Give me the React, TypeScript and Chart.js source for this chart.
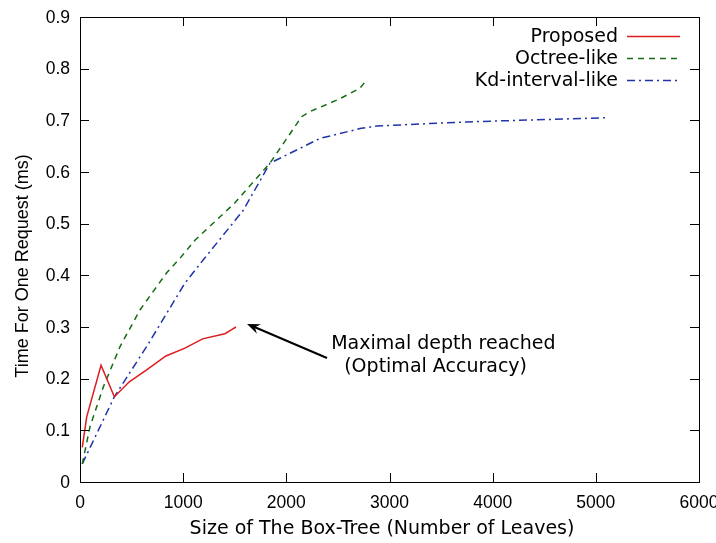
import React, { useEffect, useRef } from "react";
import { Chart, registerables } from "chart.js";

Chart.register(...registerables);

const proposedX = [22, 65, 204, 333, 478, 646, 833, 1017, 1188, 1405, 1470, 1512];
const proposedY = [0.067, 0.126, 0.226, 0.165, 0.194, 0.217, 0.244, 0.259, 0.277, 0.287, 0.295, 0.300];

const octreeX = [22, 97, 226, 388, 581, 840, 969, 1114, 1500, 1841, 2148, 2229, 2500, 2713, 2778];
const octreeY = [0.035, 0.107, 0.184, 0.262, 0.333, 0.405, 0.433, 0.468, 0.54, 0.617, 0.707, 0.717, 0.74, 0.762, 0.778];

const kdX = [22, 333, 655, 1017, 1195, 1583, 1841, 2326, 2713, 2874, 3746, 5103];
const kdY = [0.035, 0.165, 0.265, 0.385, 0.43, 0.526, 0.617, 0.665, 0.684, 0.689, 0.697, 0.705];

const seriesNames = ["Proposed", "Octree-like", "Kd-interval-like"];
const xTicks = [0, 1000, 2000, 3000, 4000, 5000, 6000];
const yTicks = [0, 0.1, 0.2, 0.3, 0.4, 0.5, 0.6, 0.7, 0.8, 0.9];
const xTitle = "Size of The Box-Tree (Number of Leaves)";
const yTitle = "Time For One Request (ms)";
const noteLines = ["Maximal depth reached", "(Optimal Accuracy)"];
const arrowTip = { x: 1619, y: 0.306 };
const arrowTail = { x: 2394, y: 0.24 };
const noteAnchor = { x: 2435, y: 0.267 };

const COLORS = ["#dd1c1c", "#146c14", "#2233aa"];
const DASHES = [[], [6, 5], [8, 4, 2, 4]];
const FONT = "'DejaVu Sans', sans-serif";
const TICK_FONT = "'Liberation Sans', Arial, sans-serif";
const TEXT_SIZE = 19;
const TICK_SIZE = 17.5;

function pts(xs: number[], ys: number[]) {
  return xs.map((x, i) => ({ x, y: ys[i] }));
}

const framePlugin = {
  id: "frame",
  afterDatasetsDraw(chart: any) {
    const { ctx, chartArea: a, scales } = chart;
    const xs = scales.x;
    const ys = scales.y;
    ctx.save();
    ctx.strokeStyle = "#000";
    ctx.lineWidth = 1;
    ctx.setLineDash([]);
    ctx.strokeRect(a.left + 0.5, a.top + 0.5, a.right - a.left, a.bottom - a.top);
    const tl = 9;
    ctx.beginPath();
    for (const v of xTicks) {
      const px = Math.round(xs.getPixelForValue(v)) + 0.5;
      ctx.moveTo(px, a.bottom);
      ctx.lineTo(px, a.bottom - tl);
      ctx.moveTo(px, a.top);
      ctx.lineTo(px, a.top + tl);
    }
    for (const v of yTicks) {
      const py = Math.round(ys.getPixelForValue(v)) + 0.5;
      ctx.moveTo(a.left, py);
      ctx.lineTo(a.left + tl, py);
      ctx.moveTo(a.right, py);
      ctx.lineTo(a.right - tl, py);
    }
    ctx.stroke();

    // tick labels
    ctx.fillStyle = "#000";
    ctx.font = `${TICK_SIZE}px ${TICK_FONT}`;
    ctx.textAlign = "center";
    ctx.textBaseline = "middle";
    for (const v of xTicks) {
      ctx.fillText(String(v), xs.getPixelForValue(v), a.bottom + 21);
    }
    ctx.textAlign = "right";
    for (const v of yTicks) {
      ctx.fillText(v === 0 ? "0" : v.toFixed(1), a.left - 10, ys.getPixelForValue(v) + 1);
    }

    // axis titles
    ctx.font = `${TEXT_SIZE}px ${FONT}`;
    ctx.textAlign = "center";
    ctx.fillText(xTitle, 382, 529);
    ctx.save();
    ctx.font = `18px ${TICK_FONT}`;
    ctx.translate(23, 266);
    ctx.rotate(-Math.PI / 2);
    ctx.fillText(yTitle, 0, 0);
    ctx.restore();

    // legend
    ctx.font = `${TEXT_SIZE}px ${FONT}`;
    ctx.textAlign = "right";
    ctx.textBaseline = "middle";
    ctx.lineWidth = 1.5;
    seriesNames.forEach((n, i) => {
      const y = 36 + i * 22;
      ctx.fillStyle = "#000";
      ctx.fillText(n, 618, y + 1);
      ctx.strokeStyle = COLORS[i];
      ctx.setLineDash(DASHES[i]);
      ctx.beginPath();
      ctx.moveTo(627, y + 0.5);
      ctx.lineTo(680, y + 0.5);
      ctx.stroke();
    });
    ctx.setLineDash([]);

    // annotation
    const tx = xs.getPixelForValue(arrowTip.x);
    const ty = ys.getPixelForValue(arrowTip.y);
    const sx = xs.getPixelForValue(arrowTail.x);
    const sy = ys.getPixelForValue(arrowTail.y);
    const ang = Math.atan2(ty - sy, tx - sx);
    ctx.strokeStyle = "#000";
    ctx.fillStyle = "#000";
    ctx.lineWidth = 2;
    ctx.beginPath();
    ctx.moveTo(sx, sy);
    ctx.lineTo(tx - 8 * Math.cos(ang), ty - 8 * Math.sin(ang));
    ctx.stroke();
    const hl = 14, hw = 0.38;
    ctx.beginPath();
    ctx.moveTo(tx, ty);
    ctx.lineTo(tx - hl * Math.cos(ang - hw), ty - hl * Math.sin(ang - hw));
    ctx.lineTo(tx - hl * 0.6 * Math.cos(ang), ty - hl * 0.6 * Math.sin(ang));
    ctx.lineTo(tx - hl * Math.cos(ang + hw), ty - hl * Math.sin(ang + hw));
    ctx.closePath();
    ctx.fill();
    ctx.font = `${TEXT_SIZE}px ${FONT}`;
    ctx.textAlign = "left";
    ctx.textBaseline = "middle";
    const nx = xs.getPixelForValue(noteAnchor.x);
    const ny = ys.getPixelForValue(noteAnchor.y);
    ctx.fillText(noteLines[0], nx, ny);
    ctx.fillText(noteLines[1], nx + 13, ny + 23);
    ctx.restore();
  },
};

export default function App() {
  const ref = useRef<HTMLCanvasElement>(null);
  useEffect(() => {
    document.body.style.margin = "0";
    const chart = new Chart(ref.current!, {
      type: "line",
      data: {
        datasets: [
          { label: seriesNames[0], data: pts(proposedX, proposedY) },
          { label: seriesNames[1], data: pts(octreeX, octreeY) },
          { label: seriesNames[2], data: pts(kdX, kdY) },
        ].map((d, i) => ({
          ...d,
          borderColor: COLORS[i],
          backgroundColor: COLORS[i],
          borderDash: DASHES[i],
          borderWidth: 1.5,
          pointRadius: 0,
          tension: 0,
          fill: false,
        })),
      },
      options: {
        animation: false,
        responsive: false,
        maintainAspectRatio: false,
        layout: { padding: { top: 17, right: 17, left: 80, bottom: 61 } },
        plugins: { legend: { display: false }, tooltip: { enabled: false } },
        scales: {
          x: { type: "linear", min: 0, max: 6000, display: false },
          y: { type: "linear", min: 0, max: 0.9, display: false },
        },
      },
      plugins: [framePlugin],
    } as any);
    return () => chart.destroy();
  }, []);
  return (
    <div style={{ position: "relative", width: 716, height: 543 }}>
      <canvas ref={ref} width={716} height={543} style={{ width: 716, height: 543, display: "block" }} />
    </div>
  );
}
